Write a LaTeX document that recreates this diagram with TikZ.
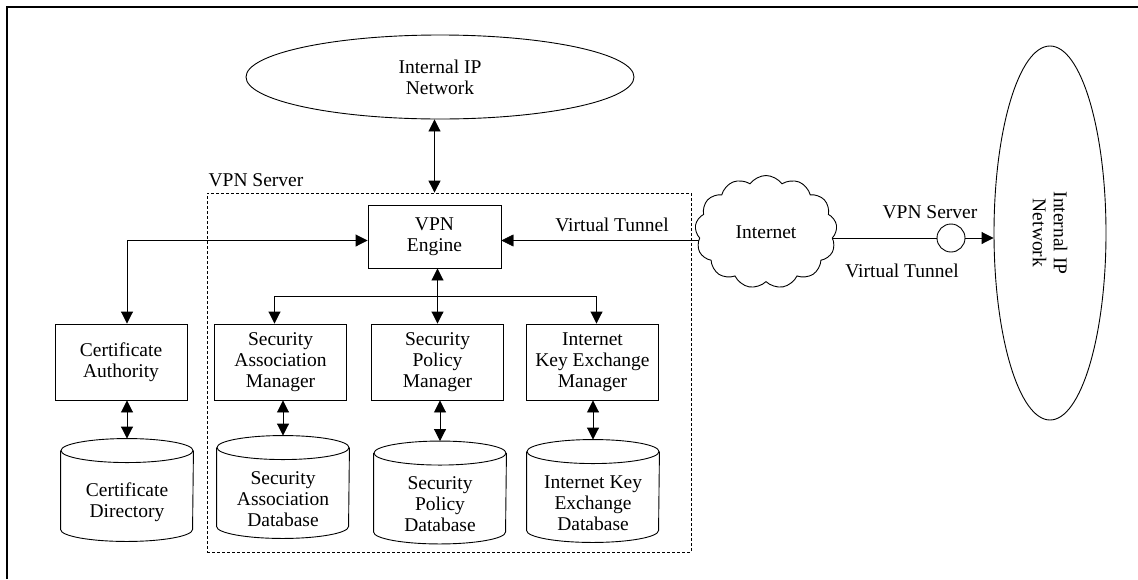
\documentclass[tikz,border=0pt]{standalone}
\usepackage{fontspec}
\setmainfont{Liberation Serif}
\usetikzlibrary{arrows.meta,shapes.geometric,shapes.symbols,backgrounds,calc}
\newcommand\dbshape[1]{%
  \draw (#1.north west) -- ([yshift=24pt]#1.south west)
        arc[start angle=180,end angle=360,x radius=66pt,y radius=12pt] -- (#1.north east);
  \draw (#1.north) ellipse[x radius=66pt,y radius=12pt];}
\begin{document}
\begin{tikzpicture}[x=1pt,y=-1pt,
  font=\fontsize{19.5}{21}\selectfont, line width=0.9pt,
  box/.style={draw, rectangle, minimum width=132pt, minimum height=76pt, inner sep=0pt, align=center},
  tip/.style={-{Triangle[length=12pt,width=12pt]}},
  dtip/.style={{Triangle[length=12pt,width=12pt]}-{Triangle[length=12pt,width=12pt]}},
  dbbody/.style={minimum width=132pt, minimum height=102pt, inner sep=0pt, align=center},
  lbl/.style={inner sep=0pt}]
\useasboundingbox (0,0) rectangle (1138,579);
\draw[line width=2pt] (7,579) -- (7,7) -- (1138,7);

% nodes
\node[draw, ellipse, minimum width=388pt, minimum height=84pt, inner sep=0pt, align=center] (inet) at (440,77) {Internal IP\\Network};
\node[draw, dash pattern=on 3pt off 2pt, line width=0.8pt, minimum width=484pt, minimum height=359pt, inner sep=0pt] (srv) at (449,372.5) {};
\node[lbl] (srvlbl) at (256,180) {VPN Server};
\node[box, minimum width=133pt, minimum height=63pt] (eng) at (434.5,236.5) {VPN\\Engine};
\node[box] (ca) at (121,362) {Certificate\\Authority};
\node[box] (sam) at (280.5,362) {Security\\Association\\Manager};
\node[box] (spm) at (437.5,362) {Security\\Policy\\Manager};
\node[box] (ikem) at (592.5,362) {Internet\\Key Exchange\\Manager};

\node[dbbody] (cd) at (127,502) {Certificate\\Directory};
\node[dbbody] (sad) at (283,499) {Security\\Association\\Database};
\node[dbbody] (spd) at (440,504.5) {Security\\Policy\\Database};
\node[dbbody] (iked) at (593,503) {Internet Key\\Exchange\\Database};
\dbshape{cd}\dbshape{sad}\dbshape{spd}\dbshape{iked}

\node[cloud, draw, fill=white, cloud puffs=13, cloud puff arc=110, cloud ignores aspect,
      minimum width=142pt, minimum height=113pt, inner sep=0pt] (cloud) at (766,232) {\raisebox{-6pt}{Internet}};
\node[draw, circle, minimum size=28pt, inner sep=0pt] (circ) at (951,238) {};
\node[draw, ellipse, rotate=-90, minimum width=374pt, minimum height=112pt, inner sep=0pt, align=center] (rnet) at (1050,233) {Internal IP\\Network};

\node[lbl] (vt1) at (612,225) {Virtual Tunnel};
\node[lbl] (vs2) at (930,212) {VPN Server};
\node[lbl] (vt2) at (902,271) {Virtual Tunnel};

% connectors
\draw[dtip] (inet.south -| eng.north) -- (eng.north |- srv.north);
\draw[dtip] ([yshift=-4pt]eng.west) -| ([xshift=6pt]ca.north);
\draw[dtip] (eng.south -| spm.north) -- (spm.north);
\coordinate (bj) at ($(eng.south)!0.5!(spm.north)$);
\draw[tip] (bj -| spm.north) -| ([xshift=-6pt]sam.north);
\draw[tip] (bj -| spm.north) -| ([xshift=4pt]ikem.north);

\draw[dtip] (ca.south -| cd.north) -- ([yshift=12pt]cd.north);
\draw[dtip] (sam.south -| sad.north) -- ([yshift=12pt]sad.north);
\draw[dtip] (spm.south -| spd.north) -- ([yshift=12pt]spd.north);
\draw[dtip] (ikem.south -| iked.north) -- ([yshift=12pt]iked.north);

\coordinate (ey) at ([yshift=-4pt]eng.east);
\begin{scope}[on background layer]
\draw[tip] (ey -| cloud.center) -- (ey);
\draw (cloud.center |- circ.center) -- (circ.west);
\end{scope}
\draw[tip] (circ.east) -- (circ.east -| rnet.south);
\end{tikzpicture}
\end{document}
